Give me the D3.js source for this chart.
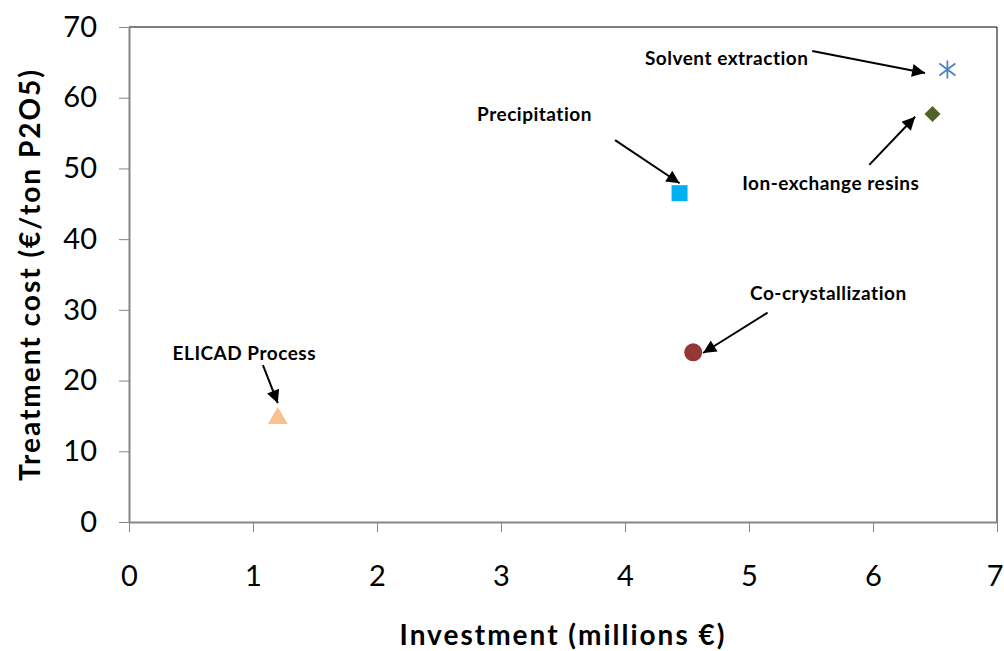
<!DOCTYPE html>
<html>
<head>
<meta charset="utf-8">
<script src="https://cdn.jsdelivr.net/npm/d3@7"></script>
<style>
  body { margin: 0; background: #fff; }
  svg text { font-family: Lato, "Open Sans", sans-serif; }
</style>
</head>
<body>
<svg width="1004" height="651"></svg>
<script>
var names = ["Solvent extraction", "Ion-exchange resins", "Precipitation", "Co-crystallization", "ELICAD Process"];
var investment = [6.6, 6.48, 4.44, 4.55, 1.2];
var treatmentCost = [64, 57.7, 46.5, 24, 15];
var markers = ["asterisk", "diamond", "square", "circle", "triangle"];
var colors = ["#4F81BD", "#4F6228", "#00B0F0", "#953735", "#FAC090"];

// label centre and arrow start/end, in data units
var labelAt = [[4.82, 65.6], [5.66, 47.9], [3.27, 57.6], [5.64, 32.4], [0.93, 23.8]];
var arrowFrom = [[5.51, 66.6], [5.97, 50.5], [3.92, 54.0], [5.15, 29.6], [1.08, 22.2]];
var arrowTo = [[6.42, 63.5], [6.34, 57.3], [4.44, 47.9], [4.63, 23.9], [1.2, 16.8]];

var xTicks = [0, 1, 2, 3, 4, 5, 6, 7];
var yTicks = [0, 10, 20, 30, 40, 50, 60, 70];

var svg = d3.select("svg");
var mLeft = 129, mRight = 997, mTop = 27, mBottom = 522;

var x = d3.scaleLinear().domain([0, 7]).range([mLeft, mRight]);
var y = d3.scaleLinear().domain([0, 70]).range([mBottom, mTop]);

// plot area border (top and right)
svg.append("path")
    .attr("d", "M" + mLeft + "," + mTop + "H" + mRight + "V" + mBottom)
    .attr("fill", "none")
    .attr("stroke", "#000")
    .attr("stroke-width", 1);

var xAxis = svg.append("g")
    .attr("transform", "translate(0," + mBottom + ")")
    .call(d3.axisBottom(x).tickValues(xTicks).tickFormat(d3.format("d"))
        .tickSize(10).tickPadding(33).tickSizeOuter(0));

var yAxis = svg.append("g")
    .attr("transform", "translate(" + mLeft + ",0)")
    .call(d3.axisLeft(y).tickValues(yTicks).tickFormat(d3.format("d"))
        .tickSize(10).tickPadding(22).tickSizeOuter(0));

[xAxis, yAxis].forEach(function(a) {
    a.select(".domain").attr("stroke", "#868686").attr("stroke-width", 2);
    a.selectAll(".tick line").attr("stroke", "#868686").attr("stroke-width", 1);
    a.selectAll(".tick text")
        .attr("fill", "#000")
        .style("font-size", "29px")
        .style("font-family", "Lato, sans-serif");
});

// keep the last x label inside the window
xAxis.selectAll(".tick text")
    .filter(function(d) { return d === 7; })
    .attr("text-anchor", "end")
    .attr("x", 6);

svg.append("text")
    .attr("x", (mLeft + mRight) / 2)
    .attr("y", 645)
    .attr("text-anchor", "middle")
    .style("font-size", "28px")
    .style("font-weight", "bold")
    .style("letter-spacing", "2px")
    .text("Investment (millions €)");

svg.append("text")
    .attr("transform", "translate(40," + ((mTop + mBottom) / 2) + ") rotate(-90)")
    .attr("text-anchor", "middle")
    .style("font-size", "28px")
    .style("font-weight", "bold")
    .style("letter-spacing", "2px")
    .text("Treatment cost (€/ton P2O5)");

// arrowhead
svg.append("defs").append("marker")
    .attr("id", "head")
    .attr("viewBox", "0 0 10 10")
    .attr("refX", 10).attr("refY", 5)
    .attr("markerWidth", 8).attr("markerHeight", 6.5)
    .attr("markerUnits", "strokeWidth")
    .attr("orient", "auto")
    .append("path")
    .attr("d", "M0,0L10,5L0,10Z")
    .attr("fill", "#000");

var points = names.map(function(n, i) {
    return { name: n, x: investment[i], y: treatmentCost[i], marker: markers[i], color: colors[i],
             label: labelAt[i], from: arrowFrom[i], to: arrowTo[i] };
});

var ann = svg.append("g");
ann.selectAll("line")
    .data(points)
    .enter().append("line")
    .attr("x1", function(d) { return x(d.from[0]); })
    .attr("y1", function(d) { return y(d.from[1]); })
    .attr("x2", function(d) { return x(d.to[0]); })
    .attr("y2", function(d) { return y(d.to[1]); })
    .attr("stroke", "#000")
    .attr("stroke-width", 2)
    .attr("marker-end", "url(#head)");

ann.selectAll("text")
    .data(points)
    .enter().append("text")
    .attr("x", function(d) { return x(d.label[0]); })
    .attr("y", function(d) { return y(d.label[1]); })
    .attr("text-anchor", "middle")
    .attr("dy", "0.35em")
    .style("font-size", "19px")
    .style("font-weight", "bold")
    .style("letter-spacing", "0.5px")
    .text(function(d) { return d.name; });

var pts = svg.append("g").selectAll("g")
    .data(points)
    .enter().append("g")
    .attr("transform", function(d) { return "translate(" + x(d.x) + "," + y(d.y) + ")"; });

pts.each(function(d) {
    var g = d3.select(this);
    if (d.marker === "asterisk") {
        g.append("path")
            .attr("d", "M0,-9V9M-8,-6L8,6M-8,6L8,-6")
            .attr("stroke", d.color)
            .attr("stroke-width", 1.8)
            .attr("fill", "none");
    } else if (d.marker === "diamond") {
        g.append("path").attr("d", "M0,-8L8,0L0,8L-8,0Z").attr("fill", d.color);
    } else if (d.marker === "square") {
        g.append("rect").attr("x", -8).attr("y", -8).attr("width", 16).attr("height", 16).attr("fill", d.color);
    } else if (d.marker === "circle") {
        g.append("circle").attr("r", 9).attr("fill", d.color);
    } else {
        g.append("path").attr("d", "M0,-9L10,8L-10,8Z").attr("fill", d.color);
    }
});
</script>
</body>
</html>
